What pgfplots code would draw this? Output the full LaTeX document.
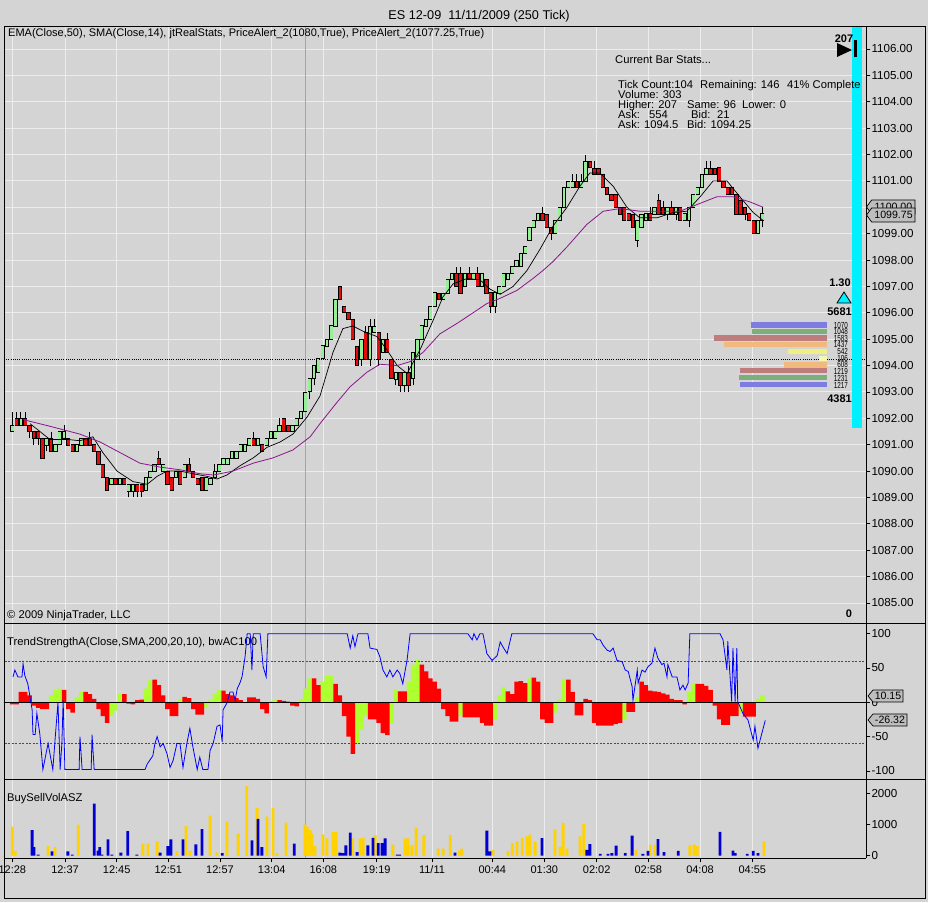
\documentclass[border=0pt]{standalone}
\usepackage{fontspec}
\setmainfont{Liberation Sans}
\usepackage{pgfplots}
\usepackage{pgfplotstable}
\pgfplotsset{compat=1.18}
\definecolor{bgc}{RGB}{212,212,212}
\definecolor{gridc}{RGB}{236,236,236}
\definecolor{upc}{RGB}{150,238,150}
\definecolor{dnc}{RGB}{228,12,12}
\definecolor{emac}{RGB}{140,20,140}
\definecolor{ygc}{RGB}{173,255,47}
\definecolor{histr}{RGB}{255,0,0}
\definecolor{volY}{RGB}{255,210,0}
\definecolor{volB}{RGB}{0,0,210}
\definecolor{pblue}{RGB}{125,125,225}
\definecolor{pgreen}{RGB}{125,175,125}
\definecolor{pbrown}{RGB}{190,125,125}
\definecolor{ppeach}{RGB}{240,185,125}
\definecolor{pyellow}{RGB}{240,240,130}
\definecolor{boxc}{RGB}{190,190,190}
\definecolor{sessc}{RGB}{165,165,165}
\definecolor{cyanbar}{RGB}{0,240,255}

\pgfplotstableread{
o h l c
1091.5 1092.25 1091.5 1091.75
1092 1092.25 1091.75 1091.75
1091.75 1092.25 1091.75 1092
1092 1092.25 1091.75 1091.75
1091.75 1091.75 1091.25 1091.5
1091.5 1091.5 1091 1091.25
1091.5 1091.5 1091 1091.25
1091.25 1091.25 1090.5 1090.5
1091 1091.25 1090.75 1091.25
1091.25 1091.5 1090.75 1090.75
1090.75 1091 1090.75 1091
1091 1091.5 1091 1091.5
1091.25 1091.75 1091.25 1091.5
1091.25 1091.25 1091 1091
1091 1091 1090.75 1090.75
1090.75 1091 1090.75 1091
1091 1091.25 1091 1091.25
1091.25 1091.25 1091 1091
1091.25 1091.5 1091 1091
1091 1091 1090.75 1090.75
1090.75 1090.75 1090.25 1090.25
1090.25 1090.25 1089.75 1089.75
1089.75 1089.75 1089.25 1089.25
1089.5 1089.75 1089.5 1089.75
1089.75 1089.75 1089.5 1089.5
1089.5 1089.75 1089.5 1089.75
1089.75 1089.75 1089.5 1089.5
1089.25 1089.5 1089 1089.5
1089.25 1089.5 1089 1089.5
1089.5 1089.5 1089 1089.25
1089.5 1089.5 1089 1089.25
1089.25 1089.75 1089.25 1089.75
1089.75 1090 1089.75 1090
1090 1090.25 1090 1090.25
1090.5 1090.75 1090.25 1090.25
1090 1090.25 1090 1090.25
1090 1090 1089.5 1089.5
1089.75 1089.75 1089.25 1089.25
1089.75 1090 1089.75 1090
1090 1090 1089.5 1089.5
1089.75 1090.25 1089.75 1090.25
1090.25 1090.5 1090 1090
1090 1090 1089.75 1089.75
1089.75 1089.75 1089.5 1089.5
1089.75 1089.75 1089.25 1089.25
1089.25 1089.75 1089.25 1089.75
1089.5 1089.75 1089.5 1089.75
1089.75 1090.25 1089.75 1090
1090 1090.25 1090 1090.25
1090.25 1090.5 1090.25 1090.5
1090.25 1090.5 1090.25 1090.5
1090.5 1090.75 1090.5 1090.75
1090.5 1090.75 1090.5 1090.75
1090.75 1091 1090.75 1091
1090.75 1091 1090.75 1091
1091 1091.25 1091 1091.25
1091.25 1091.5 1091 1091
1091 1091.25 1091 1091.25
1091 1091 1090.75 1090.75
1091 1091.25 1091 1091.25
1091.25 1091.5 1091.25 1091.5
1091.25 1091.5 1091.25 1091.5
1091.5 1092 1091.5 1091.75
1092 1092 1091.5 1091.5
1091.75 1091.75 1091.5 1091.5
1091.5 1091.75 1091.5 1091.75
1091.75 1092 1091.75 1092
1092 1092.25 1092 1092.25
1092.25 1093 1092.25 1093
1093 1093.5 1092.75 1093.5
1093.5 1094 1093.25 1094
1093.75 1094.25 1093.75 1094.25
1094.25 1094.75 1094.25 1094.75
1094.75 1095 1094.75 1095
1095 1095.5 1095 1095.5
1095.5 1096.5 1095.5 1096.5
1097 1097 1096.5 1096.5
1096.25 1096.25 1096 1096
1096 1096 1095.75 1095.75
1095.75 1095.75 1095 1095
1094.75 1094.75 1094 1094
1094.25 1095 1094 1095
1095.25 1095.5 1094.25 1094.25
1094.25 1095.75 1094 1095.5
1095.25 1095.75 1095.25 1095.5
1095.25 1095.25 1094 1094.25
1094.5 1095 1094.5 1095
1095 1095.25 1094.5 1094.5
1094.25 1094.25 1093.5 1093.5
1093.5 1093.75 1093.25 1093.75
1093.75 1093.75 1093 1093.25
1093.25 1093.75 1093 1093.75
1093.75 1094 1093 1093.25
1093.5 1094.5 1093.25 1094.5
1094.25 1095 1094.25 1095
1095 1095.5 1095 1095.5
1095.5 1095.75 1095.5 1095.75
1095.75 1096.25 1095.75 1096.25
1096.25 1096.75 1096.25 1096.75
1096.75 1096.75 1096.5 1096.5
1096.5 1096.75 1096.5 1096.75
1096.75 1097.25 1096.75 1097.25
1097.25 1097.5 1097.25 1097.5
1097.5 1097.75 1097 1097
1097.5 1097.75 1096.75 1096.75
1097 1097.5 1097 1097.5
1097.5 1097.75 1097.25 1097.25
1097.25 1097.5 1097.25 1097.5
1097.5 1097.75 1097 1097
1097 1097.5 1097 1097.5
1097.25 1097.25 1096.75 1096.75
1096.75 1096.75 1096 1096.25
1096.25 1096.75 1096 1096.75
1096.75 1097 1096.75 1097
1097 1097.5 1097 1097.5
1097.25 1097.5 1097.25 1097.5
1097.5 1097.75 1097.5 1097.75
1097.75 1098 1097.75 1098
1097.75 1098.25 1097.75 1098.25
1098.25 1098.5 1098.25 1098.5
1098.75 1099.25 1098.75 1099.25
1099.25 1099.5 1099.25 1099.5
1099.5 1099.75 1099.5 1099.75
1099.75 1100 1099.5 1099.5
1099.75 1099.75 1099.25 1099.25
1099.25 1099.25 1098.75 1099
1099 1099.5 1099 1099.5
1099.5 1100 1099.5 1100
1100 1100.75 1100 1100.75
1100.75 1101 1100.75 1101
1100.75 1101.25 1100.75 1101
1101 1101.25 1100.75 1100.75
1100.75 1101.25 1100.75 1101
1101 1102 1101 1101.75
1101.75 1101.75 1101.5 1101.5
1101.5 1101.75 1101.25 1101.25
1101.5 1101.5 1101.25 1101.25
1101.25 1101.25 1100.75 1100.75
1100.75 1100.75 1100.5 1100.5
1100.5 1100.5 1100.25 1100.25
1100.5 1100.5 1100 1100
1100 1100 1099.75 1099.75
1100 1100 1099.5 1099.5
1099.75 1099.75 1099.5 1099.5
1099.75 1099.75 1099.25 1099.25
1098.75 1099.5 1098.5 1099.5
1099.25 1099.75 1099.25 1099.75
1099.5 1099.75 1099.5 1099.75
1099.75 1100 1099.5 1099.5
1099.75 1100 1099.75 1100
1100.25 1100.5 1099.75 1099.75
1100 1100.25 1099.75 1099.75
1099.75 1100 1099.5 1100
1100 1100.25 1099.75 1099.75
1099.75 1100 1099.5 1100
1100 1100 1099.5 1099.5
1099.5 1099.75 1099.5 1099.75
1099.5 1100 1099.25 1100
1100 1100.5 1100 1100.5
1100.5 1100.75 1100.5 1100.75
1100.75 1101.25 1100.75 1101.25
1101.25 1101.75 1101.25 1101.5
1101.5 1101.75 1101.25 1101.25
1101.5 1101.5 1101.25 1101.25
1101.5 1101.5 1101 1101
1101 1101 1100.75 1100.75
1100.75 1100.75 1100.5 1100.5
1100.75 1100.75 1100.5 1100.5
1100.5 1100.5 1099.75 1099.75
1100.25 1100.25 1099.75 1099.75
1100 1100 1099.5 1099.75
1099.75 1099.75 1099.5 1099.5
1099.5 1099.5 1099 1099
1099 1099.5 1099 1099.5
1099.5 1100 1099.25 1099.75
}\candles

\pgfplotstableread{
i p
4.1 1091.8
8.7 1091.2
12.7 1091.2
15.7 1091.15
18.7 1091.3
21.0 1090.7
24.3 1090.0
28.0 1089.6
31.3 1089.5
33.6 1089.8
35.9 1090.0
38.9 1090.0
41.9 1089.9
45.2 1089.8
47.5 1089.7
49.8 1089.85
52.8 1090.2
55.9 1090.5
59.1 1090.9
62.1 1091.1
65.1 1091.4
68.4 1092.05
71.4 1092.85
74.4 1094.5
76.7 1095.4
79.0 1095.5
81.4 1095.3
84.6 1095.1
86.9 1094.6
89.3 1094.0
91.6 1093.7
94.6 1094.6
97.6 1095.7
99.9 1096.6
102.3 1097.1
105.5 1097.3
108.5 1097.25
110.8 1096.9
113.2 1096.7
116.2 1097.0
119.4 1097.6
122.4 1098.4
125.5 1099.3
128.7 1100.0
131.7 1100.8
134.0 1101.3
136.3 1101.3
139.4 1100.8
142.6 1100.0
145.6 1099.6
149.6 1099.6
153.3 1099.8
156.5 1099.85
159.6 1100.4
162.6 1101.0
165.8 1101.0
168.8 1100.4
171.9 1099.8
174.2 1099.5
}\sma

\pgfplotstableread{
i p
2.5 1091.95
8.7 1091.7
15.7 1091.4
20.4 1091.1
25.0 1090.7
29.6 1090.3
34.3 1090.15
38.9 1090.05
43.5 1089.9
46.6 1089.85
51.2 1090.0
55.9 1090.3
60.5 1090.5
65.1 1090.8
69.1 1091.3
71.4 1091.8
75.3 1092.6
78.4 1093.2
82.3 1093.75
85.3 1094.05
89.3 1094.0
92.3 1094.15
95.3 1094.5
99.2 1095.2
103.2 1095.6
106.9 1096.0
110.1 1096.35
113.2 1096.55
117.1 1096.85
120.8 1097.3
123.1 1097.6
125.5 1097.95
128.7 1098.5
133.3 1099.35
137.1 1099.85
141.0 1099.95
145.6 1099.85
150.3 1099.85
154.9 1099.85
159.6 1100.15
163.5 1100.4
167.2 1100.4
171.2 1100.2
174.2 1100.0
}\ema

\pgfplotstableread{
i r g
0 -3 0
1 -3 0
2 15 0
3 15 0
4 10 0
5 -5 0
6 -8 0
7 -10 0
8 -10 0
9 0 10
10 0 18
11 0 20
12 18 0
13 -10 0
14 -15 0
15 0 8
16 0 15
17 15 0
18 12 0
19 5 0
20 -10 0
21 -20 0
22 -30 0
23 0 -20
24 0 -12
25 0 12
26 12 0
27 -2 0
28 -3 0
29 3 0
30 4 0
31 0 20
32 0 32
33 33 0
34 25 0
35 10 0
36 -10 0
37 -20 0
38 -20 0
39 0 5
40 8 0
41 6 0
42 -10 0
43 -18 0
44 -18 0
45 0 -8
46 0 3
47 0 12
48 0 18
49 17 0
50 12 0
51 10 0
52 6 0
53 3 0
54 0 -2
55 7 0
56 7 0
57 5 0
58 -10 0
59 -16 0
60 0 2
61 0 3
62 3 0
63 2 0
64 1 0
65 -5 0
66 -6 0
67 0 5
68 0 20
69 0 35
70 35 0
71 25 0
72 0 30
73 0 38
74 0 38
75 27 0
76 10 0
77 -20 0
78 -50 0
79 -75 0
80 0 -60
81 0 -40
82 0 -20
83 -25 0
84 -25 0
85 -30 0
86 -45 0
87 -48 0
88 0 -30
89 0 18
90 16 0
91 16 0
92 0 30
93 0 55
94 0 62
95 55 0
96 45 0
97 35 0
98 30 0
99 20 0
100 -10 0
101 -20 0
102 -28 0
103 -28 0
104 0 -20
105 -22 0
106 -22 0
107 -22 0
108 -22 0
109 -30 0
110 -34 0
111 -34 0
112 0 -25
113 0 10
114 0 22
115 16 0
116 12 0
117 30 0
118 31 0
119 28 0
120 0 35
121 36 0
122 30 0
123 -25 0
124 -30 0
125 -30 0
126 0 -15
127 0 5
128 0 34
129 33 0
130 15 0
131 -19 0
132 -19 0
133 5 0
134 3 0
135 -30 0
136 -34 0
137 -34 0
138 -34 0
139 -34 0
140 -32 0
141 -30 0
142 0 -25
143 -14 0
144 -14 0
145 0 8
146 30 0
147 25 0
148 17 0
149 16 0
150 15 0
151 13 0
152 11 0
153 5 0
154 3 0
155 3 0
156 -3 0
157 0 15
158 0 27
159 27 0
160 27 0
161 24 0
162 18 0
163 -5 0
164 -25 0
165 -33 0
166 -33 0
167 -20 0
168 -20 0
169 0 -15
170 -21 0
171 -21 0
172 -21 0
173 0 5
174 0 10.15
}\hist

\pgfplotstableread{
i v
0.16 37
0.6 47
1.3 37
2.25 37
2.5 56
2.9 39
3.6 27
4.6 -11
4.8 -47
5.3 -47
5.7 -16
6.4 -47
7.1 -98
8.3 -60
9.4 -98
10.1 -40
10.6 0
11.1 -98
11.5 -60
11.8 3
12.2 -98
15.5 -98
15.7 -50
16.2 -98
18.3 -98
18.5 -47
19.0 -98
30.8 -98
31.3 -90
32.6 -78
33.1 -60
33.6 -50
34.3 -65
35.0 -60
35.9 -75
36.6 -95
37.3 -85
38.2 -60
38.9 -60
39.6 -95
40.5 -60
41.2 -38
41.9 -65
42.9 -98
43.5 -80
44.2 -98
45.4 -98
45.9 -70
46.6 -60
47.5 -35
48.2 -33
48.7 -58
48.9 -11
49.8 -1
50.5 15
51.2 15
51.7 3
52.2 20
52.8 28
53.3 37
54.0 66
54.5 100
55.2 100
55.6 47
55.9 100
57.5 100
58.2 52
58.9 37
59.3 100
77.7 100
78.4 79
79.0 97
79.5 81
80.2 100
82.5 100
83.0 79
84.6 77
85.3 66
86.0 47
86.9 37
87.6 47
88.3 37
89.3 47
89.9 42
90.6 27
91.6 62
92.3 100
105.7 100
106.7 91
107.1 100
107.8 91
108.5 100
109.2 100
110.1 71
111.3 61
112.5 68
113.2 88
113.9 80
114.8 71
115.9 100
134.7 100
135.7 91
136.4 91
137.1 83
138.0 76
138.7 74
139.4 79
140.3 61
141.5 59
142.2 47
142.9 45
143.8 23
144.0 3
145.0 47
145.2 28
146.1 47
146.8 44
147.5 52
148.4 57
149.1 79
149.8 64
150.7 55
151.2 57
151.9 37
152.1 55
153.1 37
154.2 37
154.9 18
155.6 25
156.1 18
156.8 28
157.2 100
164.2 100
164.9 91
165.8 47
166.0 89
166.9 1
167.2 79
167.7 1
168.1 79
168.3 1
169.5 -16
170.7 -26
171.9 -55
172.3 -35
173.0 -67
174.7 -26.32
}\trend

\pgfplotstableread{
i v
0 930
0.7 150
8.3 300
9.9 270
15.3 1000
30.3 380
31.5 380
33.6 460
38.2 130
40.3 950
41.2 150
45.9 1290
47.5 100
49.8 1090
52.4 710
54.4 2240
56.8 1530
59.1 1257
60.5 1530
61.4 80
63.5 1060
67.9 1000
68.4 930
69.1 820
69.5 710
70.2 300
72.1 680
73.0 550
74.4 760
75.1 760
79.0 550
80.7 550
81.4 570
84.2 660
88.3 350
91.1 550
91.8 550
92.7 330
93.7 900
95.5 660
98.8 220
100.0 220
101.6 660
103.7 160
104.3 220
111.5 180
115.0 150
116.0 400
117.1 460
118.3 560
119.4 620
120.1 670
121.3 450
125.9 840
127.1 290
127.8 1050
128.7 220
131.7 620
132.6 1020
144.7 180
148.0 350
149.1 350
157.2 330
158.2 350
158.9 300
174.4 460
}\volyellow

\pgfplotstableread{
i v
4.6 820
5.0 270
6.0 30
9.2 130
12.9 130
13.9 30
19.0 1670
19.9 160
20.3 270
20.8 30
22.2 520
23.1 30
25.2 90
26.8 790
28.9 30
34.3 90
36.1 300
36.8 520
39.6 520
42.6 360
44.0 850
48.7 75
55.6 490
57.0 1180
57.9 270
65.4 380
76.0 90
76.7 80
77.4 330
78.4 740
80.0 110
82.5 330
83.7 570
84.9 400
85.8 400
86.5 550
89.3 30
89.9 30
102.7 90
110.1 800
110.8 130
122.9 560
133.3 180
134.0 370
136.4 50
138.2 50
139.1 80
140.1 320
142.2 80
143.8 640
146.3 50
147.5 150
149.8 530
151.2 110
154.5 150
164.2 760
167.2 160
167.7 80
170.5 50
171.9 150
173.0 80
}\volblue

\pgfplotsset{
  panel/.style={
    scale only axis, width=862pt, anchor=south west,
    xmin=-1.926, xmax=198.07,
    axis line style={draw=none},
    xtick={0,12.23,24.22,36.19,48.19,60.19,72.16,84.55,97.38,111.37,123.43,135.59,147.56,159.56,171.69},
    xticklabels={}, xmajorgrids,
    grid style={draw=gridc, line width=0.9pt},
    xtick pos=left, ytick pos=right, yticklabel pos=right,
    tick align=outside, major tick length=4pt,
    y tick style={draw=black, line width=0.7pt},
    x tick style={draw=none},
    tick label style={font=\fontsize{11.6}{13}\selectfont},
    yticklabel style={xshift=-2pt},
    /pgf/number format/assume math mode=true,
    /pgf/number format/1000 sep={},
  },
  ebar/.style 2 args={draw=none, mark=none, error bars/.cd, y dir=both, y explicit, error mark=none,
     error bar style={draw=#1, line width=#2, line cap=butt, solid}},
}

\begin{document}
\begin{tikzpicture}
\fill[bgc] (0,0) rectangle (928pt,902pt);
\useasboundingbox (0,0) rectangle (928pt,902pt);

% ---------------- price panel
\begin{axis}[panel, at={(4pt,278pt)}, height=597pt,
  ymin=1084.203, ymax=1106.834,
  ytick={1085,1086,...,1106}, ymajorgrids,
  yticklabel={\pgfmathprintnumber[fixed,fixed zerofill,precision=2]{\tick}}]
\addplot[sessc, line width=0.8pt] coordinates {(67.9,1080) (67.9,1110)};
\addplot[ebar={black}{0.9pt}] table[x expr=\coordindex, y=l, y error plus expr={\thisrow{h}-\thisrow{l}}, y error minus expr={0}]{\candles};
\addplot[ebar={black}{4.2pt}] table[x expr=\coordindex, y expr={(\thisrow{o}+\thisrow{c})/2}, y error expr={abs(\thisrow{c}-\thisrow{o})/2+0.02}]{\candles};
\addplot[ebar={upc}{2.7pt}] table[x expr=\coordindex, y expr={(\thisrow{o}+\thisrow{c})/2}, y error expr={(\thisrow{c}>\thisrow{o})*(abs(\thisrow{c}-\thisrow{o})/2-0.018)}]{\candles};
\addplot[ebar={dnc}{2.7pt}] table[x expr=\coordindex, y expr={(\thisrow{o}+\thisrow{c})/2}, y error expr={(\thisrow{c}<\thisrow{o})*(abs(\thisrow{c}-\thisrow{o})/2-0.018)}]{\candles};
\addplot[black, line width=0.8pt, dash pattern=on 1pt off 1.2pt] coordinates {(-5,1094.25) (200,1094.25)};
\addplot[black, line width=0.7pt] table[x=i,y=p]{\sma};
\addplot[emac, line width=0.8pt] table[x=i,y=p]{\ema};
% volume profile
\addplot[pblue, line width=5.3pt] coordinates {(171.30,1095.54) (189,1095.54)};
\addplot[pgreen, line width=5.3pt] coordinates {(171.67,1095.29) (189,1095.29)};
\addplot[pbrown, line width=5.3pt] coordinates {(162.82,1095.04) (189,1095.04)};
\addplot[ppeach, line width=5.3pt] coordinates {(165.23,1094.79) (189,1094.79)};
\addplot[pyellow, line width=5.3pt] coordinates {(180.04,1094.52) (189,1094.52)};
\addplot[pyellow!60, line width=5.3pt] coordinates {(187.25,1094.27) (189,1094.27)};
\addplot[ppeach, line width=5.3pt] coordinates {(178.94,1094.02) (189,1094.02)};
\addplot[pbrown, line width=5.3pt] coordinates {(168.84,1093.80) (189,1093.80)};
\addplot[pgreen, line width=5.3pt] coordinates {(168.64,1093.54) (189,1093.54)};
\addplot[pblue, line width=5.3pt] coordinates {(168.87,1093.28) (189,1093.28)};
\end{axis}

% ---------------- trend strength panel
\begin{axis}[panel, at={(4pt,123pt)}, height=155pt,
  ymin=-111.8, ymax=114.1, ytick={-100,-50,0,50,100}]
\addplot[sessc, line width=0.8pt] coordinates {(67.9,-120) (67.9,120)};
\addplot[ybar, bar width=1.04, bar shift=0pt, fill=ygc, draw=none] table[x=i,y=g]{\hist};
\addplot[ybar, bar width=1.04, bar shift=0pt, fill=histr, draw=none] table[x=i,y=r]{\hist};
\addplot[black, line width=1.2pt] coordinates {(-5,0) (200,0)};
\addplot[green!50!black, line width=0.7pt, dash pattern=on 2pt off 1.5pt] coordinates {(-5,60) (200,60)};
\addplot[red, line width=0.7pt, dash pattern=on 2pt off 1.5pt] coordinates {(-5,-60) (200,-60)};
\addplot[blue, line width=0.8pt] table[x=i,y=v]{\trend};
\end{axis}

% ---------------- volume panel
\begin{axis}[panel, at={(4pt,44pt)}, height=79pt,
  ymin=-80, ymax=2468, ytick={0,1000,2000},
  xticklabels={12:28,12:37,12:45,12:51,12:57,13:04,16:08,19:19,11/11,00:44,01:30,02:02,02:58,04:08,04:55},
  x tick style={draw=black, line width=0.7pt},
  xticklabel style={font=\fontsize{11}{13}\selectfont}]
\addplot[sessc, line width=0.8pt] coordinates {(67.9,-100) (67.9,2500)};
\addplot[ybar, bar width=0.66, bar shift=0pt, fill=volY, draw=none] table[x=i,y=v]{\volyellow};
\addplot[ybar, bar width=0.66, bar shift=0pt, fill=volB, draw=none] table[x=i,y=v]{\volblue};
\end{axis}

% ---------------- frames
\draw[black, line width=1pt] (4pt,4pt) rectangle (925pt,875pt);
\draw[black, line width=1pt] (4pt,278pt) -- (925pt,278pt);
\draw[black, line width=1pt] (4pt,123pt) -- (925pt,123pt);
\draw[black, line width=1pt] (866pt,875pt) -- (866pt,44pt);
\draw[black, line width=1pt] (4pt,44pt) -- (866pt,44pt);

% cyan bar (under the texts)
\fill[cyanbar] (852pt,875pt) rectangle (862pt,474pt);

% ---------------- texts
\node[anchor=base, inner sep=0pt, font=\fontsize{12.7}{14}\selectfont] at (479pt,882.7pt) {ES 12-09\ \ 11/11/2009 (250 Tick)};
\node[anchor=base west, inner sep=0pt, font=\fontsize{11}{13}\selectfont] at (8pt,865pt) {EMA(Close,50), SMA(Close,14), jtRealStats, PriceAlert\_2(1080,True), PriceAlert\_2(1077.25,True)};
\begin{scope}[every node/.style={anchor=base west, inner sep=0pt, font=\fontsize{11.2}{13}\selectfont}]
\node at (615pt,838.7pt) {Current Bar Stats...};
\node at (618pt,813.7pt) {Tick Count:104};
\node at (700pt,813.7pt) {Remaining: 146};
\node at (787pt,813.7pt) {41\% Complete};
\node at (618pt,803.7pt) {Volume: 303};
\node at (618pt,793.7pt) {Higher: 207};
\node at (687pt,793.7pt) {Same: 96};
\node at (742pt,793.7pt) {Lower: 0};
\node at (618pt,783.7pt) {Ask:};
\node at (649pt,783.7pt) {554};
\node at (691pt,783.7pt) {Bid:};
\node at (717pt,783.7pt) {21};
\node at (618pt,773.7pt) {Ask: 1094.5};
\node at (687pt,773.7pt) {Bid: 1094.25};
\node at (7pt,283pt) {\textcopyright\ 2009 NinjaTrader, LLC};
\node at (7pt,256pt) {TrendStrengthA(Close,SMA,200,20,10), bwAC100};
\node at (7pt,100.3pt) {BuySellVolASZ};
\end{scope}

% markers
\fill[black] (837pt,859pt) -- (837pt,845pt) -- (852pt,852pt) -- cycle;
\draw[black, line width=3pt] (855.5pt,862pt) -- (855.5pt,845pt);
\node[inner sep=0pt, font=\bfseries\fontsize{11}{13}\selectfont] at (844pt,863pt) {207};
\node[inner sep=0pt, font=\bfseries\fontsize{11}{13}\selectfont] at (840pt,619pt) {1.30};
\filldraw[fill=cyanbar, draw=black, line width=0.8pt] (837pt,599pt) -- (851pt,599pt) -- (844pt,610pt) -- cycle;
\node[inner sep=0pt, font=\bfseries\fontsize{11}{13}\selectfont] at (839.5pt,590pt) {5681};
\node[inner sep=0pt, font=\bfseries\fontsize{11}{13}\selectfont] at (839.5pt,503pt) {4381};
\node[inner sep=0pt, font=\bfseries\fontsize{11}{13}\selectfont] at (849pt,288pt) {0};
\begin{scope}[every node/.style={anchor=east, inner sep=0pt, xscale=0.72, font=\fontsize{8.8}{9}\selectfont}]
\node at (848pt,577pt) {1070};
\node at (848pt,570.5pt) {1048};
\node at (848pt,564pt) {1583};
\node at (848pt,557.3pt) {1437};
\node at (848pt,550.5pt) {542};
\node at (848pt,544pt) {106};
\node at (848pt,537.5pt) {608};
\node at (848pt,531pt) {1219};
\node at (848pt,524pt) {1231};
\node at (848pt,517pt) {1217};
\end{scope}

% price / value boxes
\filldraw[fill=boxc, draw=black, line width=0.7pt] (866.5pt,695pt) -- (871.7pt,702pt) -- (915pt,702pt) -- (915pt,688pt) -- (871.7pt,688pt) -- cycle;
\node[inner sep=0pt, font=\fontsize{10.6}{12}\selectfont] at (893.5pt,695pt) {1100.00};
\filldraw[fill=boxc, draw=black, line width=0.7pt] (866.5pt,687pt) -- (871.7pt,694pt) -- (915pt,694pt) -- (915pt,680pt) -- (871.7pt,680pt) -- cycle;
\node[inner sep=0pt, font=\fontsize{10.6}{12}\selectfont] at (893.5pt,687pt) {1099.75};
\filldraw[fill=boxc, draw=black, line width=0.7pt] (868pt,206pt) -- (873pt,212pt) -- (903pt,212pt) -- (903pt,200pt) -- (873pt,200pt) -- cycle;
\node[inner sep=0pt, font=\fontsize{10.6}{12}\selectfont] at (888pt,206pt) {10.15};
\filldraw[fill=boxc, draw=black, line width=0.7pt] (868pt,182pt) -- (873pt,188pt) -- (907pt,188pt) -- (907pt,176pt) -- (873pt,176pt) -- cycle;
\node[inner sep=0pt, font=\fontsize{10.6}{12}\selectfont] at (890pt,182pt) {-26.32};
\end{tikzpicture}
\end{document}
